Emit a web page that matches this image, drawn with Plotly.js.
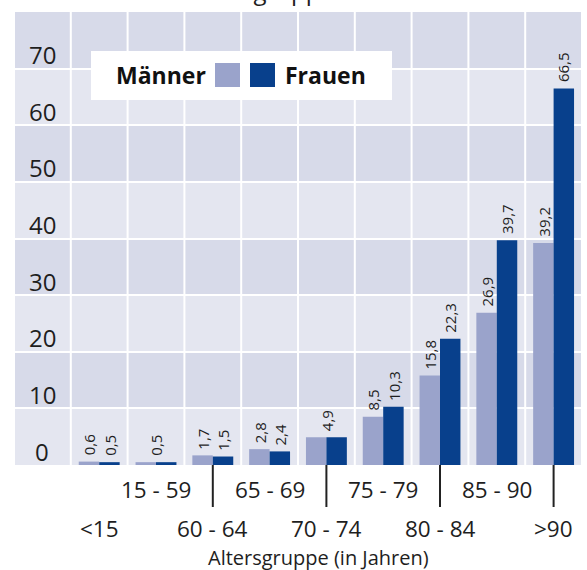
<!DOCTYPE html>
<html>
<head>
<meta charset="utf-8">
<script src="https://cdn.plot.ly/plotly-3.0.1.min.js"></script>
<style>html,body{margin:0;padding:0;background:#fff;}#chart{width:587px;height:570px;}</style>
</head>
<body>
<div id="chart"></div>
<script>
const categories = ['<15', '15 - 59', '60 - 64', '65 - 69', '70 - 74', '75 - 79', '80 - 84', '85 - 90', '>90'];
const maenner = [0.6, 0.5, 1.7, 2.8, 4.9, 8.5, 15.8, 26.9, 39.2];
const frauen = [0.5, 0.5, 1.5, 2.4, 4.9, 10.3, 22.3, 39.7, 66.5];
const yTicks = [0, 10, 20, 30, 40, 50, 60, 70];
const seriesNames = ['Männer', 'Frauen'];
const xTitle = 'Altersgruppe (in Jahren)';
const topTitleFragment = 'Altersgruppe';

const FONT = 'Open Sans, Noto Sans, sans-serif';
const TXT = '#1e1e1e';
const cM = '#9aa3cb', cF = '#08408c';
const lightBand = '#e4e6f0', darkBand = '#d7dae9';

// pixel helpers (plot area: x 14..582, y 12..465)
const L = 14, R = 582, T = 12, B = 465;
const px = v => (v - L) / (R - L);
const py = v => (B - v) / (B - T);

const fmt = v => v.toFixed(1).replace('.', ',');

const traces = [
  {type: 'bar', name: seriesNames[0], x: categories, y: maenner, marker: {color: cM}, hoverinfo: 'none'},
  {type: 'bar', name: seriesNames[1], x: categories, y: frauen, marker: {color: cF}, hoverinfo: 'none'}
];

const shapes = [];
// alternating bands
for (let k = 0; k < 8; k++) {
  if (k % 2 === 1) {
    shapes.push({type: 'rect', xref: 'paper', yref: 'y', x0: 0, x1: 1, y0: k * 10, y1: (k + 1) * 10,
      fillcolor: darkBand, line: {width: 0}, layer: 'below'});
  }
}
// vertical grid lines
for (let i = -1.5; i <= 8.5; i += 1) {
  shapes.push({type: 'line', xref: 'x', yref: 'paper', x0: i, x1: i, y0: 0, y1: 1,
    line: {color: '#ffffff', width: 2}, layer: 'below'});
}
// leader ticks for second row labels
categories.forEach((c, i) => {
  if (i % 2 === 0 && i > 0) {
    shapes.push({type: 'line', xref: 'x', yref: 'paper', x0: i, x1: i, y0: 0, y1: py(507),
      line: {color: '#222', width: 2}});
  }
});
// legend box
shapes.push({type: 'rect', xref: 'paper', yref: 'paper', x0: px(91), x1: px(392), y0: py(100), y1: py(51),
  fillcolor: '#ffffff', line: {width: 0}, layer: 'above'});
shapes.push({type: 'rect', xref: 'paper', yref: 'paper', x0: px(215), x1: px(240), y0: py(87), y1: py(63),
  fillcolor: cM, line: {width: 0}, layer: 'above'});
shapes.push({type: 'rect', xref: 'paper', yref: 'paper', x0: px(250), x1: px(275), y0: py(87), y1: py(63),
  fillcolor: cF, line: {width: 0}, layer: 'above'});

const annotations = [];
// y labels inside first column
yTicks.forEach(v => {
  annotations.push({xref: 'x', yref: 'y', x: -1, y: v, text: String(v), showarrow: false,
    xanchor: 'center', yanchor: 'middle', yshift: 14, font: {family: FONT, size: 24, color: TXT}});
});
// value labels
categories.forEach((c, i) => {
  const m = maenner[i], f = frauen[i];
  const base = {xref: 'x', yref: 'y', showarrow: false, textangle: -90, xanchor: 'center', yanchor: 'bottom',
    yshift: 4, font: {family: FONT, size: 15, color: TXT}};
  if (m === f) {
    annotations.push(Object.assign({}, base, {x: i, y: m, text: fmt(m)}));
  } else {
    annotations.push(Object.assign({}, base, {x: i, y: m, text: fmt(m), xshift: -10}));
    annotations.push(Object.assign({}, base, {x: i, y: f, text: fmt(f), xshift: 10}));
  }
});
// x category labels, staggered
categories.forEach((c, i) => {
  annotations.push({xref: 'x', yref: 'paper', x: i, y: i % 2 === 1 ? py(489) : py(528), text: c,
    showarrow: false, xanchor: 'center', yanchor: 'middle',
    font: {family: FONT, size: 22.5, color: TXT}});
});
// axis title
annotations.push({xref: 'paper', yref: 'paper', x: px(318), y: py(557), text: xTitle, showarrow: false,
  xanchor: 'center', yanchor: 'middle',
  font: {family: FONT, size: 20, color: TXT}});
// legend texts
annotations.push({xref: 'paper', yref: 'paper', x: px(208), y: py(75), text: '<b>' + seriesNames[0] + '</b>',
  showarrow: false, xanchor: 'right', yanchor: 'middle', font: {family: FONT, size: 23, color: '#111'}});
annotations.push({xref: 'paper', yref: 'paper', x: px(283), y: py(75), text: '<b>' + seriesNames[1] + '</b>',
  showarrow: false, xanchor: 'left', yanchor: 'middle', font: {family: FONT, size: 23, color: '#111'}});
// cropped title fragment at very top (the reference shows only its descenders)
annotations.push({xref: 'paper', yref: 'paper', x: px(187), y: py(9), text: topTitleFragment, showarrow: false,
  xanchor: 'left', yanchor: 'bottom', font: {family: FONT, size: 24, color: TXT}});

const layout = {
  width: 587, height: 570,
  margin: {l: L, r: 587 - R, t: T, b: 570 - B},
  paper_bgcolor: '#ffffff', plot_bgcolor: lightBand,
  showlegend: false,
  barmode: 'group', bargap: 0.28, bargroupgap: 0,
  xaxis: {type: 'category', categoryorder: 'array', categoryarray: categories, range: [-1.5, 8.5],
    showgrid: false, zeroline: false, showline: false, showticklabels: false, ticks: '', fixedrange: true},
  yaxis: {range: [0, 80], tickvals: yTicks.slice(1), showgrid: true, gridcolor: '#ffffff', gridwidth: 2,
    zeroline: false, showline: false, showticklabels: false, ticks: '', fixedrange: true},
  shapes: shapes,
  annotations: annotations
};

Plotly.newPlot('chart', traces, layout, {displayModeBar: false, staticPlot: true});
</script>
</body>
</html>
